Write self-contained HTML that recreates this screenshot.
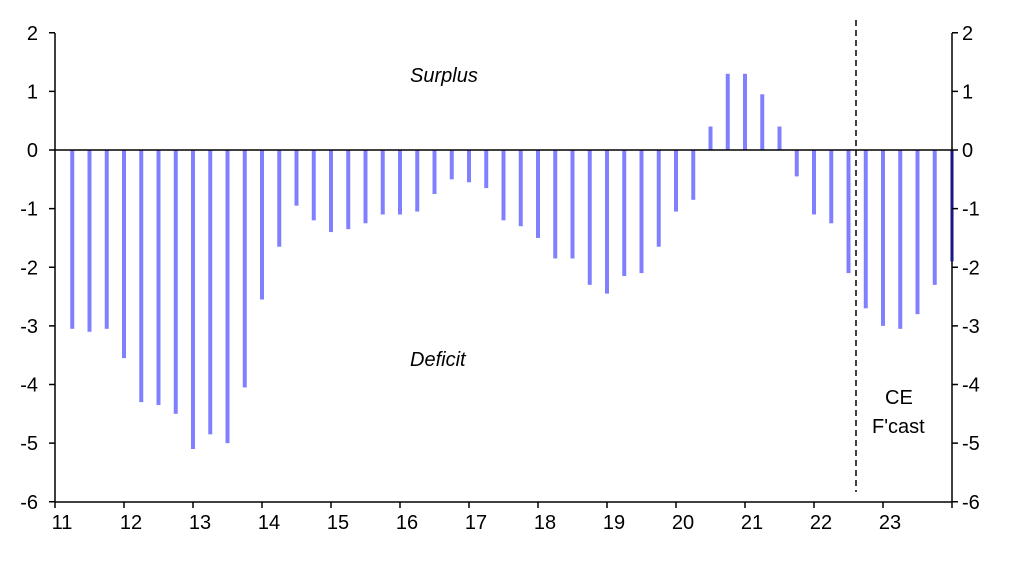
<!DOCTYPE html>
<html><head><meta charset="utf-8"><style>
body{margin:0;background:#fff;}
svg text{font-family:"Liberation Sans",Arial,sans-serif;font-size:20px;fill:#000;}
</style></head><body>
<svg id="c" width="1011" height="561" xmlns="http://www.w3.org/2000/svg">
<g id="bars" fill="#8080ff"></g>
<line x1="55" y1="150" x2="952" y2="150" stroke="#000" stroke-width="1.5"/>
<line x1="55" y1="33" x2="55" y2="502" stroke="#000" stroke-width="1.5"/>
<line x1="952" y1="33" x2="952" y2="502" stroke="#000" stroke-width="1.5"/>
<line x1="55" y1="502" x2="952" y2="502" stroke="#000" stroke-width="1.5"/>
<line x1="856" y1="20" x2="856" y2="492" stroke="#000" stroke-width="1.5" stroke-dasharray="6,4"/>
<g id="ticks" stroke="#000" stroke-width="1.5"></g>
<g id="labels"></g>
<text x="410" y="82" font-style="italic">Surplus</text>
<text x="410" y="366" font-style="italic">Deficit</text>
<text x="885" y="404">CE</text>
<text x="872" y="433">F'cast</text>
</svg>
<script>
var v=[-3.05,-3.1,-3.05,-3.55,-4.3,-4.35,-4.5,-5.1,-4.85,-5.0,-4.05,-2.55,-1.65,-0.95,-1.2,-1.4,-1.35,-1.25,-1.1,-1.1,-1.05,-0.75,-0.5,-0.55,-0.65,-1.2,-1.3,-1.5,-1.85,-1.85,-2.3,-2.45,-2.15,-2.1,-1.65,-1.05,-0.85,0.4,1.3,1.3,0.95,0.4,-0.45,-1.1,-1.25,-2.1,-2.7,-3.0,-3.05,-2.8,-2.3,-1.9];
var ns="http://www.w3.org/2000/svg",b=document.getElementById('bars'),t=document.getElementById('ticks'),l=document.getElementById('labels');
function y(val){return 150-val*58.625;}
function el(p,tag,a,txt){var e=document.createElementNS(ns,tag);for(var k in a)e.setAttribute(k,a[k]);if(txt!==undefined)e.textContent=txt;p.appendChild(e);}
v.forEach(function(val,i){var x=55+17.25*(i+1);var y0=Math.min(y(0),y(val)),h=Math.abs(y(val)-y(0));el(b,'rect',{x:x-2,y:y0,width:4,height:h});});
for(var k=2;k>=-6;k--){var yy=y(k);el(t,'line',{x1:49,y1:yy,x2:55,y2:yy});el(t,'line',{x1:952,y1:yy,x2:958,y2:yy});
el(l,'text',{x:38,y:yy+7,'text-anchor':'end'},String(k));el(l,'text',{x:962,y:yy+7},String(k));}
for(var i=0;i<=13;i++){var x=55+69*i;el(t,'line',{x1:x,y1:502,x2:x,y2:508});if(i<13)el(l,'text',{x:x+7,y:529,'text-anchor':'middle'},String(11+i));}
</script>
</body></html>
